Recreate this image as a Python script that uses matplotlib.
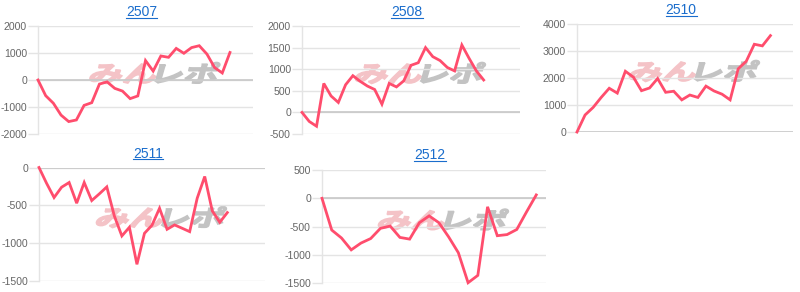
import matplotlib
matplotlib.use('Agg')
import matplotlib.pyplot as plt
from matplotlib.textpath import TextPath
from matplotlib.patches import PathPatch
from matplotlib.font_manager import FontProperties
from matplotlib.transforms import Affine2D, IdentityTransform
from matplotlib.lines import Line2D

plt.rcParams['font.family'] = ['Liberation Sans', 'DejaVu Sans']

# ---------------- data ----------------
titles = ["2507", "2508", "2510", "2511", "2512"]

s2507 = [0, -580, -860, -1300, -1540, -1480, -940, -840, -150, -70, -310, -410,
         -690, -590, 720, 330, 890, 840, 1170, 990, 1200, 1270, 960, 460, 260, 1020]
s2508 = [0, -210, -320, 670, 380, 230, 640, 850, 720, 610, 530, 190, 670, 590,
         730, 1090, 1150, 1500, 1290, 1200, 1040, 960, 1560, 1250, 960, 750]
s2510 = [0, 630, 910, 1280, 1620, 1440, 2250, 2030, 1530, 1630, 1980, 1470, 1510,
         1190, 1370, 1280, 1700, 1520, 1400, 1190, 2340, 2620, 3250, 3190, 3570]
s2511 = [0, -208, -398, -261, -199, -473, -199, -438, -350, -257, -642, -907, -792,
         -1283, -872, -765, -540, -819, -761, -805, -850, -407, -119, -575, -726, -597]
s2512 = [0, -560, -700, -910, -790, -710, -530, -490, -690, -720, -430, -310, -430,
         -680, -960, -1490, -1360, -150, -660, -640, -550, -240, 60]
series = [s2507, s2508, s2510, s2511, s2512]

yticks = [
    [-2000, -1000, 0, 1000, 2000],
    [-500, 0, 500, 1000, 1500, 2000],
    [0, 1000, 2000, 3000, 4000],
    [-1500, -1000, -500, 0],
    [-1500, -1000, -500, 0, 500],
]

# ---------------- layout (pixels) ----------------
W, H = 800, 292
# left, right, top, bottom in pixel coords (y from top)
boxes = [
    (38, 253, 26, 134),
    (302, 520, 26, 134),
    (577, 793, 24, 132),
    (39, 265, 167.5, 280.7),
    (322, 546, 170, 283.3),
]
xmax = [28, 30, 26.8, 30, 23]
title_base = [16.2, 16.2, 14.5, 157.5, 159]

LINE = '#ff4d6d'
GRID = '#e4e4e4'
ZERO = '#c8c8c8'
TITLE = '#1a6dcc'

fig = plt.figure(figsize=(W / 100, H / 100), dpi=100)

wm_fp = FontProperties(family='Noto Sans CJK JP', weight='bold')
p1 = TextPath((0, 0), "みん", size=1, prop=wm_fp)
p2 = TextPath((0, 0), "レポ", size=1, prop=wm_fp)
e1 = p1.get_extents()
e2 = p2.get_extents()
gap = 0.02
total_w = (e1.x1 - e1.x0) + gap + (e2.x1 - e2.x0)
total_h = max(e1.y1, e2.y1) - min(e1.y0, e2.y0)
y0 = min(e1.y0, e2.y0)

axes = []
for i, (l, r, t, b) in enumerate(boxes):
    ax = fig.add_axes([l / W, 1 - b / H, (r - l) / W, (b - t) / H])
    axes.append(ax)
    ys = series[i]
    xs = list(range(len(ys)))
    ax.plot(xs, ys, color=LINE, lw=2.0, zorder=3, solid_joinstyle='miter',
            clip_on=False)
    ax.set_xlim(0, xmax[i])
    ax.set_ylim(yticks[i][0], yticks[i][-1])
    ax.set_yticks(yticks[i])
    ax.set_yticklabels([str(v) for v in yticks[i]])
    ax.set_xticks([])
    ax.tick_params(axis='y', length=7, width=1, color=GRID, labelsize=7.6,
                   labelcolor='#666666', pad=1)
    for sp in ['top', 'right', 'bottom']:
        ax.spines[sp].set_visible(False)
    ax.spines['left'].set_color(GRID)
    ax.spines['left'].set_linewidth(1)
    ax.set_axisbelow(True)
    ax.yaxis.grid(True, color=GRID, lw=1)
    ax.axhline(0, color=ZERO, lw=1.2, zorder=1)

    # watermark (display pixel coordinates)
    cx = (l + r) / 2 + 9
    cy = H - ((t + b) / 2 - 7)
    sx = 126 / total_w
    sy = 21 / total_h
    base = (Affine2D().translate(-total_w / 2, -y0 - total_h / 2)
            .scale(sx, sy).skew_deg(16, 0).translate(cx, cy))
    t1 = Affine2D().translate(-e1.x0, 0) + base
    t2 = Affine2D().translate(-e2.x0 + (e1.x1 - e1.x0) + gap, 0) + base
    pp1 = PathPatch(p1, facecolor='#f4c3c7', edgecolor='#f4c3c7', lw=1.2,
                    joinstyle='miter', transform=t1 + IdentityTransform(),
                    zorder=0.2)
    pp2 = PathPatch(p2, facecolor='#c3c3c3', edgecolor='#c3c3c3', lw=1.2,
                    joinstyle='miter', transform=t2 + IdentityTransform(),
                    zorder=0.2)
    for pp in (pp1, pp2):
        pp.set_clip_on(False)
        ax.add_artist(pp)

# titles with underline
renderer = fig.canvas.get_renderer()
for i, (l, r, t, b) in enumerate(boxes):
    x = (l + r) / 2 - 4
    txt = fig.text(x / W, 1 - title_base[i] / H, titles[i], ha='center',
                   va='baseline', fontsize=10, color=TITLE)
    bb = txt.get_window_extent(renderer)
    uy = 1 - (title_base[i] + 1.6) / H
    fig.add_artist(Line2D([bb.x0 / W, bb.x1 / W], [uy, uy], color=TITLE,
                          lw=0.8, transform=fig.transFigure))

fig.savefig('out.png', dpi=100, facecolor='white')
